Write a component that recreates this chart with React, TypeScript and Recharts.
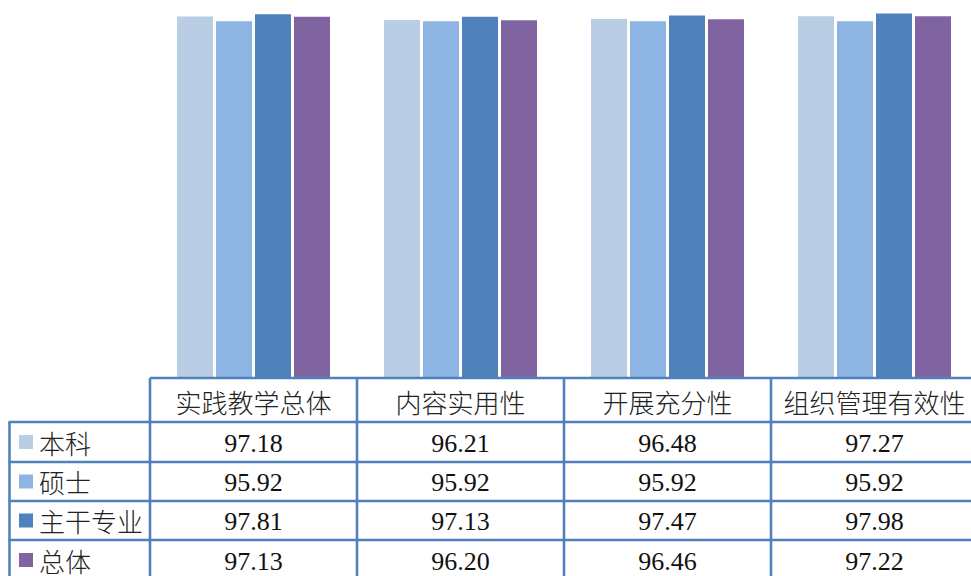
import React from "react";
import { BarChart, Bar, XAxis, YAxis } from "recharts";

const categories = ["实践教学总体", "内容实用性", "开展充分性", "组织管理有效性"];
const seriesNames = ["本科", "硕士", "主干专业", "总体"];
const benke = [97.18, 96.21, 96.48, 97.27];
const shuoshi = [95.92, 95.92, 95.92, 95.92];
const zhugan = [97.81, 97.13, 97.47, 97.98];
const zongti = [97.13, 96.2, 96.46, 97.22];

const seriesValues = [benke, shuoshi, zhugan, zongti];
const seriesKeys = ["benke", "shuoshi", "zhugan", "zongti"];
const colors = ["#b9cde5", "#8eb4e3", "#4f81bd", "#8064a2"];

const data = categories.map((c, i) => ({
  name: c,
  benke: benke[i],
  shuoshi: shuoshi[i],
  zhugan: zhugan[i],
  zongti: zongti[i],
}));

const LINE = "#4f81bd";
const LW = 2.6;
const HALF = 103.5;
const rowTops = [44, 84, 123, 162, 202];
const CJK = '"Noto Sans CJK SC", sans-serif';
const SERIF = '"Liberation Serif", "Times New Roman", serif';

const TableTick = (props: any) => {
  const { x, y, payload } = props;
  const idx = payload.index;
  const left = x - HALF;
  const right = x + HALF;
  const els: any[] = [];
  els.push(<line key="top" x1={left} x2={right} y1={y} y2={y} stroke={LINE} strokeWidth={LW} />);
  els.push(<line key="vl" x1={left} x2={left} y1={y} y2={y + 210} stroke={LINE} strokeWidth={LW} />);
  for (let r = 0; r < 4; r++) {
    els.push(
      <line key={"h" + r} x1={left} x2={right} y1={y + rowTops[r]} y2={y + rowTops[r]} stroke={LINE} strokeWidth={LW} />
    );
  }
  els.push(
    <text key="hdr" x={x} y={y + 23} textAnchor="middle" dominantBaseline="central" fontFamily={CJK} fontSize={26} fontWeight={300} fill="#222">
      {categories[idx]}
    </text>
  );
  for (let r = 0; r < 4; r++) {
    const cy = y + (rowTops[r] + rowTops[r + 1]) / 2 + 1;
    els.push(
      <text key={"v" + r} x={x} y={cy} textAnchor="middle" dominantBaseline="central" fontFamily={SERIF} fontSize={26} fill="#111">
        {seriesValues[r][idx].toFixed(2)}
      </text>
    );
  }
  if (idx === 0) {
    const lx = 9.5;
    els.push(<line key="ll" x1={lx} x2={lx} y1={y + rowTops[0]} y2={y + 210} stroke={LINE} strokeWidth={LW} />);
    for (let r = 0; r < 4; r++) {
      els.push(
        <line key={"lh" + r} x1={lx - 1} x2={left} y1={y + rowTops[r]} y2={y + rowTops[r]} stroke={LINE} strokeWidth={LW} />
      );
      const cy = y + (rowTops[r] + rowTops[r + 1]) / 2;
      els.push(<rect key={"sq" + r} x={19} y={cy - 7} width={14} height={14} fill={colors[r]} />);
      els.push(
        <text key={"lt" + r} x={39} y={cy} dominantBaseline="central" fontFamily={CJK} fontSize={26} fontWeight={300} fill="#222">
          {seriesNames[r]}
        </text>
      );
    }
  }
  return <g>{els}</g>;
};

export default function App() {
  return (
    <div style={{ position: "absolute", left: 0, top: 0, width: 971, height: 576, overflow: "hidden", background: "#fff" }}>
      <BarChart
        width={978}
        height={576}
        data={data}
        margin={{ top: 6, right: 0, left: 150, bottom: 0 }}
        barSize={36}
        barGap={3}
      >
        <YAxis hide domain={[0, 100]} />
        <XAxis
          dataKey="name"
          height={198}
          interval={0}
          tickLine={false}
          axisLine={false}
          tickSize={0}
          tickMargin={0}
          tick={<TableTick />}
        />
        {seriesKeys.map((k, i) => (
          <Bar key={k} dataKey={k} name={seriesNames[i]} fill={colors[i]} isAnimationActive={false} />
        ))}
      </BarChart>
    </div>
  );
}
